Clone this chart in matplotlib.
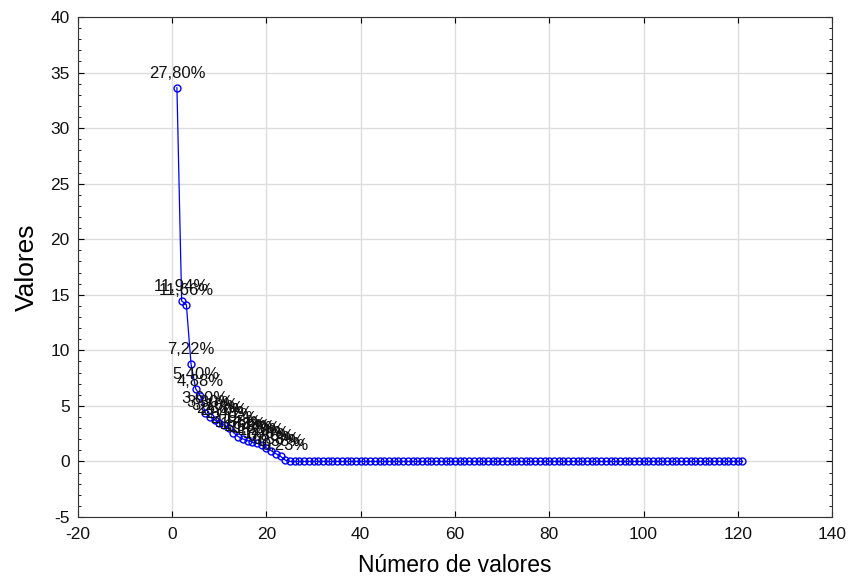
import matplotlib
matplotlib.use("Agg")
import matplotlib.pyplot as plt
from matplotlib.ticker import MultipleLocator

# eigenvalues (121 values, only the first 24 are non-zero)
eigen_values = [33.64, 14.45, 14.11, 8.74, 6.53, 5.90, 4.36, 3.99, 3.75, 3.48,
                3.27, 3.00, 2.60, 2.24, 2.03, 1.88, 1.74, 1.63, 1.45, 1.21,
                0.97, 0.70, 0.46, 0.12] + [0.0] * 97
value_numbers = list(range(1, len(eigen_values) + 1))

# percentage labels for the non-zero values
pct_labels = ["27,80%", "11,94%", "11,66%", "7,22%", "5,40%", "4,88%", "3,60%",
              "3,30%", "3,10%", "2,88%", "2,70%", "2,48%", "2,15%", "1,85%",
              "1,68%", "1,55%", "1,44%", "1,35%", "1,20%", "1,00%", "0,80%",
              "0,58%", "0,38%", "0,23%"]

x_ticks = [-20, 0, 20, 40, 60, 80, 100, 120, 140]
y_ticks = [-5, 0, 5, 10, 15, 20, 25, 30, 35, 40]

plt.rcParams["font.family"] = ["Liberation Sans", "DejaVu Sans"]
plt.rcParams["axes.unicode_minus"] = False

fig = plt.figure(figsize=(8.53, 5.80), dpi=100)
ax = fig.add_axes([0.0914, 0.1086, 0.884, 0.862])

ax.plot(value_numbers, eigen_values, color="#0000ff", linewidth=0.9,
        marker="o", markersize=5, markerfacecolor="none",
        markeredgecolor="#0000ff", markeredgewidth=1.0, zorder=3)

for i, label in enumerate(pct_labels):
    ax.annotate(label, (value_numbers[i], eigen_values[i]),
                xytext=(0, 5), textcoords="offset points",
                ha="center", va="bottom", fontsize=12, color="#111111",
                zorder=4)

ax.set_xlim(-20, 140)
ax.set_ylim(-5, 40)
ax.set_xticks(x_ticks)
ax.set_yticks(y_ticks)
ax.yaxis.set_minor_locator(MultipleLocator(1))
ax.tick_params(axis="both", which="both", direction="in", top=True, right=True)
ax.tick_params(axis="both", which="major", length=4, labelsize=12.5,
               labelcolor="#111111")
ax.tick_params(axis="x", which="major", pad=7)
ax.tick_params(axis="y", which="major", pad=6)
ax.tick_params(axis="y", which="minor", length=2)

ax.grid(True, which="major", color="#dddddd", linewidth=1.0)
ax.set_axisbelow(True)
for spine in ax.spines.values():
    spine.set_color("#333333")

ax.set_xlabel("Número de valores", fontsize=16.5, labelpad=9)
ax.set_ylabel("Valores", fontsize=19, labelpad=8)

fig.savefig("out.png", dpi=100)
